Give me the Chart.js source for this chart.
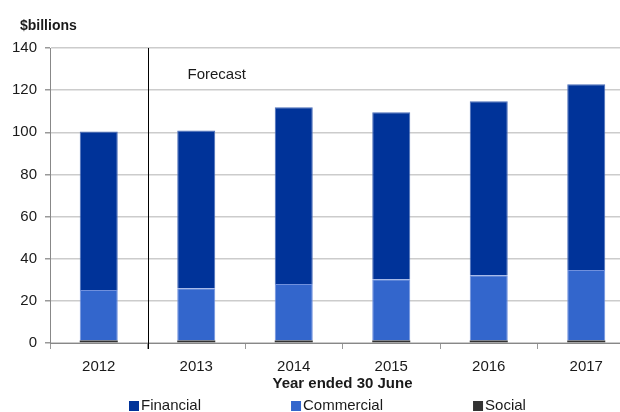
<!DOCTYPE html>
<html>
<head>
<meta charset="utf-8">
<script src="https://cdn.jsdelivr.net/npm/chart.js@4/dist/chart.umd.min.js"></script>
<style>
    html, body { margin: 0; padding: 0; background: #fff; overflow: hidden; }
    #wrap { width: 620px; height: 412px; overflow: hidden; position: relative; }
    #wrap canvas { position: absolute; left: 0; top: 0; }
</style>
</head>
<body>
<div id="wrap"><canvas id="grafico" width="640" height="420"></canvas></div>
<script>
// Dados (em $ bilhões)
const anos = ['2012', '2013', '2014', '2015', '2016', '2017'];
const social = [1.2, 1.2, 1.2, 1.2, 1.2, 1.2];
const commercial = [24.0, 24.8, 26.8, 29.0, 30.9, 33.4];
const financial = [75.2, 74.9, 83.9, 79.3, 82.6, 88.2];
const yTicks = [0, 20, 40, 60, 80, 100, 120, 140];

const FONTE = '"Liberation Sans", Arial, sans-serif';
const COR_TEXTO = '#1a1a1a';

// Linha "Forecast", rótulo do eixo y e legenda desenhados à mão
const extras = {
    id: 'extras',
    afterDraw(chart) {
        const ctx = chart.ctx;
        const area = chart.chartArea;
        const x = chart.scales.x;
        const xLinha = Math.round((x.getPixelForValue(0) + x.getPixelForValue(1)) / 2) + 0.5;

        ctx.save();
        ctx.strokeStyle = '#000';
        ctx.lineWidth = 1;
        ctx.beginPath();
        ctx.moveTo(xLinha, area.top);
        ctx.lineTo(xLinha, area.bottom + 6);
        ctx.stroke();

        ctx.fillStyle = COR_TEXTO;
        ctx.font = '15px ' + FONTE;
        ctx.textBaseline = 'middle';
        ctx.textAlign = 'left';
        ctx.fillText('Forecast', xLinha + 39, area.top + 27);

        ctx.font = 'bold 14px ' + FONTE;
        ctx.fillText('$billions', 20, 26);

        // legenda (de cima para baixo da pilha)
        ctx.font = '15px ' + FONTE;
        let lx = area.left + 79;
        const ly = 406;
        chart.data.datasets.slice().reverse().forEach(ds => {
            ctx.fillStyle = ds.backgroundColor;
            ctx.fillRect(lx, ly - 5, 10, 10);
            ctx.fillStyle = COR_TEXTO;
            ctx.fillText(ds.label, lx + 12, ly);
            lx += 12 + ctx.measureText(ds.label).width + 90;
        });
        ctx.restore();
    }
};

const ctx = document.getElementById('grafico').getContext('2d');
new Chart(ctx, {
    type: 'bar',
    data: {
        labels: anos,
        datasets: [
            { label: 'Social', data: social, backgroundColor: '#333333', borderWidth: 0 },
            { label: 'Commercial', data: commercial, backgroundColor: '#3366cc', borderColor: '#7090dd', borderWidth: 1 },
            { label: 'Financial', data: financial, backgroundColor: '#003399', borderColor: '#4a6db8', borderWidth: 1 }
        ]
    },
    options: {
        responsive: false,
        animation: false,
        devicePixelRatio: 1,
        layout: { padding: { top: 48, left: 10, right: 5, bottom: 27 } },
        plugins: { legend: { display: false }, tooltip: { enabled: false } },
        datasets: { bar: { categoryPercentage: 1, barPercentage: 0.39 } },
        scales: {
            x: {
                stacked: true,
                grid: { display: true, drawOnChartArea: false, drawTicks: true, tickLength: 6, tickColor: '#999', offset: true },
                border: { color: '#888', width: 1 },
                ticks: { color: COR_TEXTO, font: { family: FONTE, size: 15 }, padding: 9 },
                title: { display: true, text: 'Year ended 30 June', color: COR_TEXTO, font: { family: FONTE, size: 15, weight: 'bold' }, padding: { top: 0, bottom: 0 } },
                afterFit: s => { s.height = 50; }
            },
            y: {
                stacked: true,
                min: 0,
                max: 140,
                afterBuildTicks: s => { s.ticks = yTicks.map(v => ({ value: v })); },
                grid: { color: '#cccccc', lineWidth: 1.5, tickLength: 5, tickColor: '#999' },
                border: { color: '#888', width: 1 },
                ticks: { color: COR_TEXTO, font: { family: FONTE, size: 15 }, padding: 8 },
                afterFit: s => { s.width = 40; }
            }
        }
    },
    plugins: [extras]
});
</script>
</body>
</html>
